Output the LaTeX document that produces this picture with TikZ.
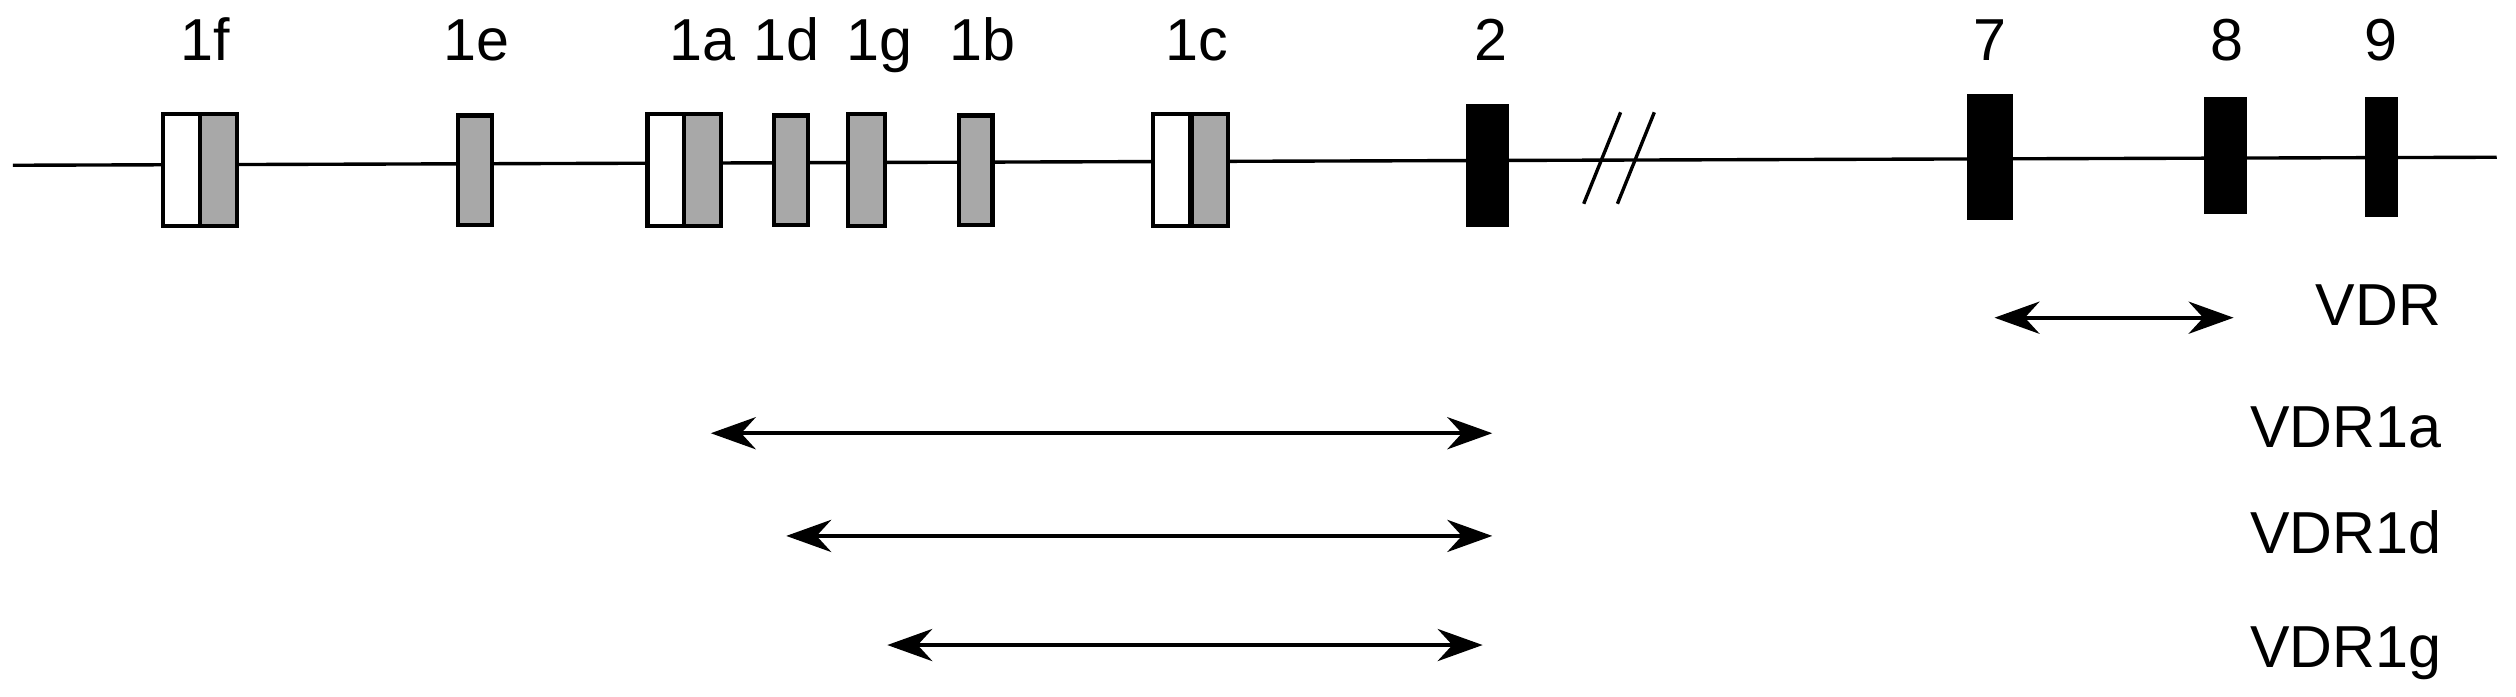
\documentclass[tikz,border=0pt]{standalone}
\usepackage{fontspec}
\setmainfont{Liberation Sans}
\usetikzlibrary{arrows.meta}
\definecolor{exgray}{RGB}{168,168,168}
\tikzset{
    exon/.style={draw, line width=0.75pt, inner sep=0pt, minimum width=0.23cm, minimum height=0.7cm},
    lbl/.style={font=\fontsize{10.5}{12}\selectfont, inner sep=0pt, anchor=base},
    span/.style={line width=0.75pt, {Stealth[length=0.28cm,width=0.2cm]}-{Stealth[length=0.28cm,width=0.2cm]}}
}
\begin{document}
\begin{tikzpicture}[x=0.01cm, y=-0.01cm]
    \useasboundingbox (0,0) rectangle (1568,434);

    % gene line
    \coordinate (start) at (8,103);
    \coordinate (stop) at (1556,98);
    \draw[line width=0.6pt] (start) -- (stop);
    \draw[line width=0.6pt] (987,127) -- (1010,70);
    \draw[line width=0.6pt] (1008,127) -- (1031,70);

    % exons
    \node[exon, fill=white] (f1w) at (113,106) {};
    \node[exon, fill=exgray] (f1g) at (136,106) {};
    \node[exon, fill=exgray, minimum width=0.21cm, minimum height=0.68cm] (e1) at (296,106) {};
    \node[exon, fill=white] (a1w) at (415,106) {};
    \node[exon, fill=exgray] (a1g) at (438,106) {};
    \node[exon, fill=exgray, minimum width=0.21cm, minimum height=0.68cm] (d1) at (493,106) {};
    \node[exon, fill=exgray] (g1) at (540,106) {};
    \node[exon, fill=exgray, minimum width=0.21cm, minimum height=0.68cm] (b1) at (608,106) {};
    \node[exon, fill=white] (c1w) at (730,106) {};
    \node[exon, fill=exgray] (c1g) at (754,106) {};
    \node[exon, fill=black, minimum width=0.24cm, minimum height=0.74cm] (x2) at (927,103) {};
    \node[exon, fill=black, minimum width=0.26cm, minimum height=0.76cm] (x7) at (1240,98) {};
    \node[exon, fill=black, minimum width=0.24cm, minimum height=0.7cm] (x8) at (1387,97) {};
    \node[exon, fill=black, minimum width=0.18cm, minimum height=0.72cm] (x9) at (1484,98) {};

    % exon labels
    \node[lbl] at (128,38) {1f};
    \node[lbl] at (297,38) {1e};
    \node[lbl] at (438,38) {1a};
    \node[lbl] at (490,38) {1d};
    \node[lbl] at (548,38) {1g};
    \node[lbl] at (612,38) {1b};
    \node[lbl] at (746,38) {1c};
    \node[lbl] at (929,38) {2};
    \node[lbl] at (1240,38) {7};
    \node[lbl] at (1388,38) {8};
    \node[lbl] at (1484,38) {9};

    % transcripts
    \coordinate (vs) at (1243,198); \coordinate (ve) at (1392,198);
    \coordinate (as) at (443,270);  \coordinate (ae) at (930,270);
    \coordinate (ds) at (490,334);  \coordinate (de) at (930,334);
    \coordinate (gs) at (553,402);  \coordinate (ge) at (924,402);
    \draw[span] (vs) -- (ve);
    \draw[span] (as) -- (ae);
    \draw[span] (ds) -- (de);
    \draw[span] (gs) -- (ge);
    \node[lbl, anchor=base east] (vdr) at (1522,203) {VDR};
    \node[lbl, anchor=base east] (vdra) at (1522,279) {VDR1a};
    \node[lbl, anchor=base east] (vdrd) at (1522,345) {VDR1d};
    \node[lbl, anchor=base east] (vdrg) at (1522,416) {VDR1g};
\end{tikzpicture}
\end{document}
